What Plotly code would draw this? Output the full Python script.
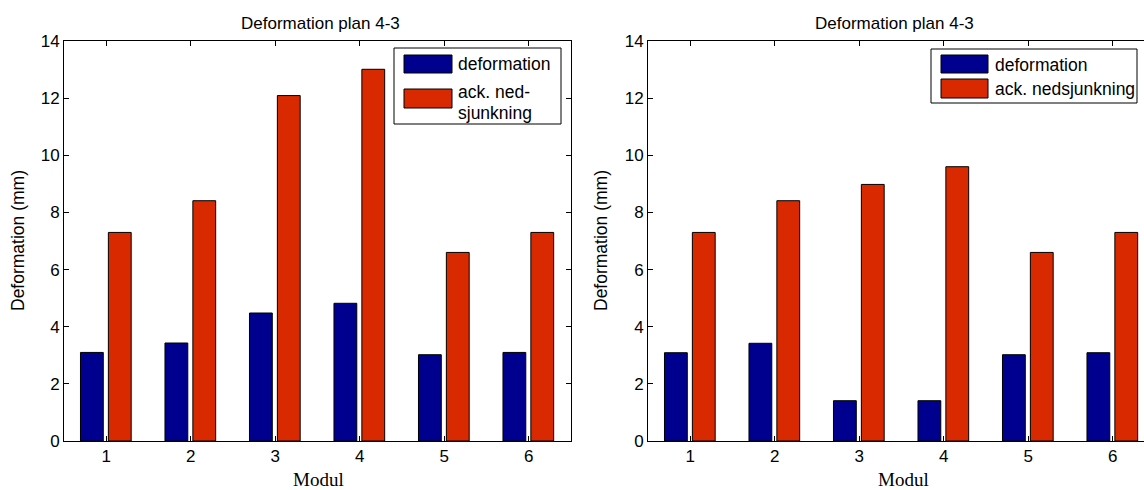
import plotly.graph_objects as go

# Data
modules = [1, 2, 3, 4, 5, 6]
series_names = ["deformation", "ack. ned-<br>sjunkning"]
series_names_right = ["deformation", "ack. nedsjunkning"]
deform_left = [3.10, 3.43, 4.48, 4.82, 3.02, 3.10]
sink_left = [7.30, 8.41, 12.09, 13.01, 6.60, 7.30]
deform_right = [3.09, 3.42, 1.41, 1.41, 3.02, 3.09]
sink_right = [7.30, 8.41, 8.98, 9.60, 6.60, 7.30]
y_ticks = [0, 2, 4, 6, 8, 10, 12, 14]

BLUE = "#00008f"
RED = "#d92900"
W, H = 1144, 490
SANS = "Liberation Sans, Arial, sans-serif"
SERIF = "Liberation Serif, Times New Roman, serif"


def px(x):
    return x / W


def py(y):
    return 1 - y / H


fig = go.Figure()

for xa, ya, d, s in [("x", "y", deform_left, sink_left), ("x2", "y2", deform_right, sink_right)]:
    fig.add_trace(go.Bar(x=modules, y=d, xaxis=xa, yaxis=ya, width=0.27, offset=-0.305,
                         marker=dict(color=BLUE, line=dict(color="black", width=1)),
                         showlegend=False, name=series_names[0]))
    fig.add_trace(go.Bar(x=modules, y=s, xaxis=xa, yaxis=ya, width=0.27, offset=0.025,
                         marker=dict(color=RED, line=dict(color="black", width=1)),
                         showlegend=False, name=series_names_right[1]))

axis_common = dict(showline=True, linecolor="black", linewidth=1, ticks="inside", ticklen=5,
                   tickcolor="black", showgrid=False, zeroline=False, automargin=False,
                   tickfont=dict(family=SANS, size=17, color="black"))
ydom = [py(441), py(41)]

fig.update_layout(
    width=W, height=H, margin=dict(l=0, r=0, t=0, b=0, pad=0),
    paper_bgcolor="white", plot_bgcolor="white", barmode="overlay", showlegend=False,
    xaxis=dict(domain=[px(64), px(571)], range=[0.5, 6.5], tickvals=modules, mirror="ticks",
               anchor="y", **axis_common),
    yaxis=dict(domain=ydom, range=[0, 14], tickvals=y_ticks, mirror="ticks", anchor="x",
               **axis_common),
    xaxis2=dict(domain=[px(648), 1], range=[0.5, 0.5 + (W - 648) / 84.5], tickvals=modules,
                mirror="ticks", anchor="y2", **axis_common),
    yaxis2=dict(domain=ydom, range=[0, 14], tickvals=y_ticks, mirror=False, anchor="x2",
                **axis_common),
)

annotations = []
shapes = []
# Titles and axis labels
for cx_title, cx_lab, cx_y in [(320, 318, 18), (895, 903, 601)]:
    annotations.append(dict(x=px(cx_title), y=py(23), xref="paper", yref="paper",
                            xanchor="center", yanchor="middle",
                            text="Deformation plan 4-3", showarrow=False,
                            font=dict(family=SANS, size=17, color="black")))
    annotations.append(dict(x=px(cx_lab), y=py(479), xref="paper", yref="paper",
                            xanchor="center", yanchor="middle",
                            text="Modul", showarrow=False,
                            font=dict(family=SERIF, size=19, color="black")))
    annotations.append(dict(x=px(cx_y), y=py(241), xref="paper", yref="paper",
                            xanchor="center", yanchor="middle",
                            text="Deformation (mm)", showarrow=False, textangle=-90,
                            font=dict(family=SANS, size=17.5, color="black")))

# Legend boxes drawn on paper; each text line placed on its own row
legends = [
    dict(box=(394, 48, 561, 124), sw=(404, 452), rows=[(55, 73, [64]), (89, 108, [92, 113])],
         tx=456, names=series_names),
    dict(box=(931, 49, 1137, 103), sw=(941, 988), rows=[(55, 73, [65]), (79, 98, [89])],
         tx=993, names=series_names_right),
]
for lg in legends:
    x0, y0, x1, y1 = lg["box"]
    shapes.append(dict(type="rect", xref="paper", yref="paper", x0=px(x0), x1=px(x1),
                       y0=py(y1), y1=py(y0), line=dict(color="black", width=1),
                       fillcolor="white", layer="above"))
    for (ry0, ry1, tys), col, name in zip(lg["rows"], [BLUE, RED], lg["names"]):
        shapes.append(dict(type="rect", xref="paper", yref="paper", x0=px(lg["sw"][0]),
                           x1=px(lg["sw"][1]), y0=py(ry1), y1=py(ry0),
                           line=dict(color="black", width=1), fillcolor=col, layer="above"))
        for ty, line in zip(tys, name.split("<br>")):
            annotations.append(dict(x=px(lg["tx"]), y=py(ty), xref="paper", yref="paper",
                                    xanchor="left", yanchor="middle", align="left",
                                    text=line, showarrow=False,
                                    font=dict(family=SANS, size=17.5, color="black")))

fig.update_layout(annotations=annotations, shapes=shapes)
fig.write_html("out.html", post_script="document.body.style.margin='0';")
